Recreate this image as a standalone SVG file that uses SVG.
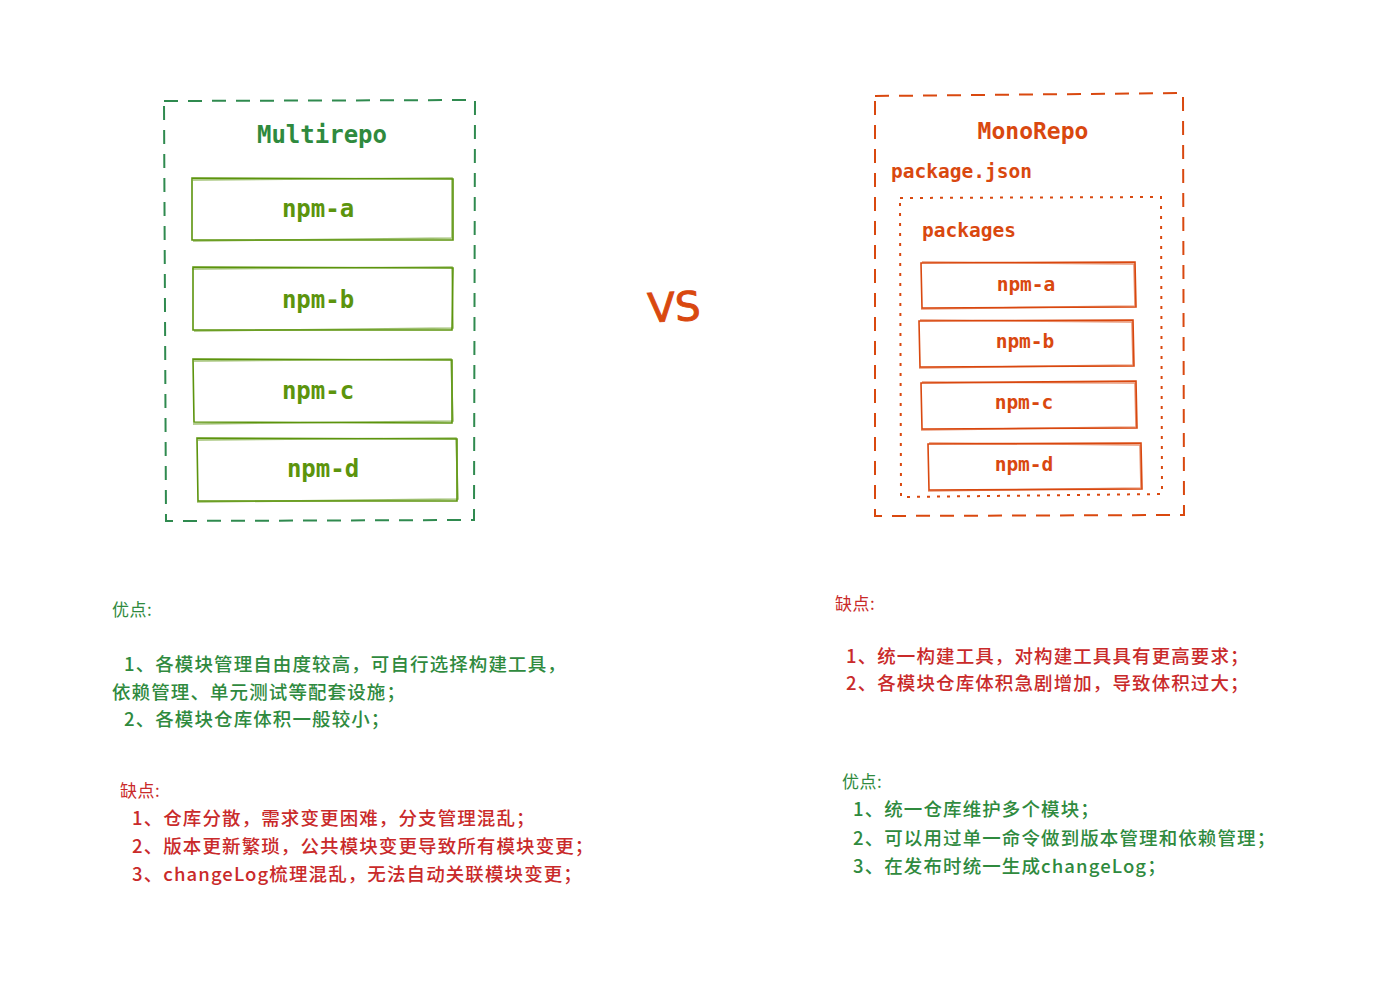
<svg xmlns="http://www.w3.org/2000/svg" width="1394" height="990" viewBox="0 0 1394 990">
<style>
.mono{font-family:"DejaVu Sans Mono","Liberation Mono",monospace;font-weight:bold}
.cn{font-family:"Noto Sans CJK SC","Noto Sans",sans-serif;font-size:18.5px;letter-spacing:1.1px;font-weight:500}
.hd{font-size:17px;font-weight:400;letter-spacing:0.5px}
.g{fill:#2f8a3e}
.r{fill:#c92a2a}
.gbox{fill:none;stroke:#5c940d;stroke-width:1.6}
.obox{fill:none;stroke:#d9480f;stroke-width:1.6}
.gdash{fill:none;stroke:#2f8a4f;stroke-width:2;stroke-dasharray:14 10}
.odash{fill:none;stroke:#d9480f;stroke-width:2;stroke-dasharray:14 10}
.odot{fill:none;stroke:#d9480f;stroke-width:2;stroke-dasharray:3 7}
.gt{fill:#5c940d;font-size:24px;text-anchor:middle}
.ot{fill:#d9480f;font-size:19.5px;text-anchor:middle}
</style>
<rect width="1394" height="990" fill="#ffffff"/>

<g id="multirepo">
  <path class="gdash" d="M164 101 L475 100 L474 520 L166 521 Z"/>
  <text class="mono g" x="322" y="143" font-size="24" text-anchor="middle">Multirepo</text>
</g>
<g id="m-npm-a">
  <path class="gbox" d="M192 178 L453 179 L453 240 L192 240 Z"/>
  <path class="gbox" d="M193 180 L452 178 L452 238 L193 241" stroke-opacity="0.6"/>
  <text class="mono gt" x="318" y="217">npm-a</text>
</g>
<g id="m-npm-b">
  <path class="gbox" d="M193 267 L453 268 L452 330 L193 330 Z"/>
  <path class="gbox" d="M192 269 L452 267 L453 328 L194 331" stroke-opacity="0.6"/>
  <text class="mono gt" x="318" y="308">npm-b</text>
</g>
<g id="m-npm-c">
  <path class="gbox" d="M193 359 L452 360 L452 423 L194 422 Z"/>
  <path class="gbox" d="M194 361 L451 359 L453 421 L193 424" stroke-opacity="0.6"/>
  <text class="mono gt" x="318" y="399">npm-c</text>
</g>
<g id="m-npm-d">
  <path class="gbox" d="M197 438 L457 439 L457 501 L198 501 Z"/>
  <path class="gbox" d="M198 440 L456 438 L458 499 L197 502" stroke-opacity="0.6"/>
  <text class="mono gt" x="323" y="477">npm-d</text>
</g>

<g id="vs">
  <text x="674" y="321" font-family="'DejaVu Sans','Liberation Sans',sans-serif" font-size="40" fill="#d9480f" stroke="#d9480f" stroke-width="1" text-anchor="middle" transform="rotate(-3 674 306)">VS</text>
</g>

<g id="monorepo">
  <path class="odash" d="M875 96 L1183 93 L1184 515 L875 516 Z"/>
  <text class="mono" x="1033" y="139" font-size="23" fill="#d9480f" text-anchor="middle">MonoRepo</text>
  <text class="mono" x="891" y="178" font-size="19.5" fill="#d9480f">package.json</text>
</g>
<g id="packages">
  <path class="odot" d="M900 198 L1161 197 L1162 494 L901 497 Z"/>
  <text class="mono" x="922" y="237" font-size="19.5" fill="#d9480f">packages</text>
</g>
<g id="o-npm-a">
  <path class="obox" d="M921 263 L1135 262 L1136 307 L922 308 Z"/>
  <path class="obox" d="M922 262 L1134 264 L1135 306 L921 309" stroke-opacity="0.6"/>
  <text class="mono ot" x="1026" y="291">npm-a</text>
</g>
<g id="o-npm-b">
  <path class="obox" d="M919 321 L1133 320 L1134 366 L920 367 Z"/>
  <path class="obox" d="M920 320 L1132 322 L1133 365 L919 368" stroke-opacity="0.6"/>
  <text class="mono ot" x="1025" y="348">npm-b</text>
</g>
<g id="o-npm-c">
  <path class="obox" d="M921 383 L1136 381 L1137 428 L922 429 Z"/>
  <path class="obox" d="M922 382 L1135 383 L1136 427 L921 430" stroke-opacity="0.6"/>
  <text class="mono ot" x="1024" y="409">npm-c</text>
</g>
<g id="o-npm-d">
  <path class="obox" d="M928 444 L1141 443 L1142 489 L929 490 Z"/>
  <path class="obox" d="M929 443 L1140 445 L1141 488 L928 491" stroke-opacity="0.6"/>
  <text class="mono ot" x="1024" y="471">npm-d</text>
</g>

<g id="left-pros">
  <text class="cn hd g" x="112" y="616">优点:</text>
  <text class="cn g" x="124" y="671">1、各模块管理自由度较高，可自行选择构建工具，</text>
  <text class="cn g" x="112" y="699">依赖管理、单元测试等配套设施；</text>
  <text class="cn g" x="124" y="726">2、各模块仓库体积一般较小；</text>
</g>
<g id="left-cons">
  <text class="cn hd r" x="120" y="797">缺点:</text>
  <text class="cn r" x="132" y="825">1、仓库分散，需求变更困难，分支管理混乱；</text>
  <text class="cn r" x="132" y="853">2、版本更新繁琐，公共模块变更导致所有模块变更；</text>
  <text class="cn r" x="132" y="881">3、changeLog梳理混乱，无法自动关联模块变更；</text>
</g>
<g id="right-cons">
  <text class="cn hd r" x="835" y="610">缺点:</text>
  <text class="cn r" x="846" y="663">1、统一构建工具，对构建工具具有更高要求；</text>
  <text class="cn r" x="846" y="690">2、各模块仓库体积急剧增加，导致体积过大；</text>
</g>
<g id="right-pros">
  <text class="cn hd g" x="842" y="788">优点:</text>
  <text class="cn g" x="853" y="816">1、统一仓库维护多个模块；</text>
  <text class="cn g" x="853" y="845">2、可以用过单一命令做到版本管理和依赖管理；</text>
  <text class="cn g" x="853" y="873">3、在发布时统一生成changeLog；</text>
</g>
</svg>
